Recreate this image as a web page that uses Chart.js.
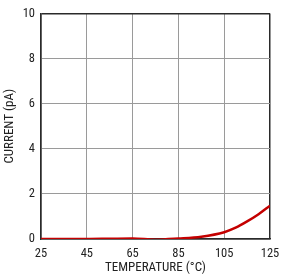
<!DOCTYPE html>
<html>
<head>
<meta charset="utf-8">
<script src="https://cdn.jsdelivr.net/npm/chart.js@4/dist/chart.umd.min.js"></script>
<style>
  html, body { margin: 0; padding: 0; background: #fff; }
  #wrap { width: 288px; height: 278px; position: relative; }
</style>
</head>
<body>
<div id="wrap"><canvas id="chart"></canvas></div>
<script>
// temperature (°C) and leakage current (pA)
const temps = [25, 35, 45, 55, 65, 75, 85, 95, 105, 110, 115, 120, 125]
const current = [0, 0, 0, 0.01, 0.02, -0.03, 0.02, 0.1, 0.3, 0.5, 0.78, 1.1, 1.48]

const xTicks = [25, 45, 65, 85, 105, 125]
const yTicks = [0, 2, 4, 6, 8, 10]

const frame = '#2a2a2a'
const gridGray = '#9a9a9a'
const family = '"Roboto Condensed", "Liberation Sans", Arial, sans-serif'
const tickFont = { family: family, size: 12.5 }
const titleFont = { family: family, size: 13 }

const points = temps.map((t, i) => ({ x: t, y: current[i] }))

new Chart(document.getElementById('chart').getContext('2d'), {
    type: 'line',
    data: {
        datasets: [{
            data: points,
            borderColor: '#c40000',
            borderWidth: 2.5,
            pointRadius: 0,
            cubicInterpolationMode: 'monotone',
            fill: false
        }]
    },
    options: {
        responsive: true,
        maintainAspectRatio: false,
        animation: false,
        layout: { padding: { top: 9, right: 18, left: 0, bottom: 0 } },
        plugins: { legend: { display: false }, tooltip: { enabled: false } },
        scales: {
            x: {
                type: 'linear',
                min: 25,
                max: 125,
                afterBuildTicks: (s) => { s.ticks = xTicks.map(v => ({ value: v })) },
                afterFit: (s) => { s.height = 39 },
                border: { display: true, color: frame, width: 1.5 },
                grid: {
                    drawTicks: false,
                    color: (c) => c.tick && c.tick.value === 125 ? frame : gridGray,
                    lineWidth: (c) => c.tick && c.tick.value === 125 ? 1.5 : 1
                },
                ticks: { color: '#222', font: tickFont, padding: 7, maxRotation: 0 },
                title: {
                    display: true,
                    text: 'TEMPERATURE (°C)',
                    color: '#222',
                    font: titleFont,
                    padding: { top: 2, bottom: 2 }
                }
            },
            y: {
                min: 0,
                max: 10,
                afterBuildTicks: (s) => { s.ticks = yTicks.map(v => ({ value: v })) },
                afterFit: (s) => { s.width = 41 },
                border: { display: true, color: frame, width: 1.5 },
                grid: {
                    drawTicks: false,
                    color: (c) => c.tick && c.tick.value === 10 ? frame : gridGray,
                    lineWidth: (c) => c.tick && c.tick.value === 10 ? 1.5 : 1
                },
                ticks: { color: '#222', font: tickFont, padding: 6 },
                title: {
                    display: true,
                    text: 'CURRENT (pA)',
                    color: '#222',
                    font: titleFont,
                    padding: { top: 2, bottom: 2 }
                }
            }
        }
    }
})
</script>
</body>
</html>
